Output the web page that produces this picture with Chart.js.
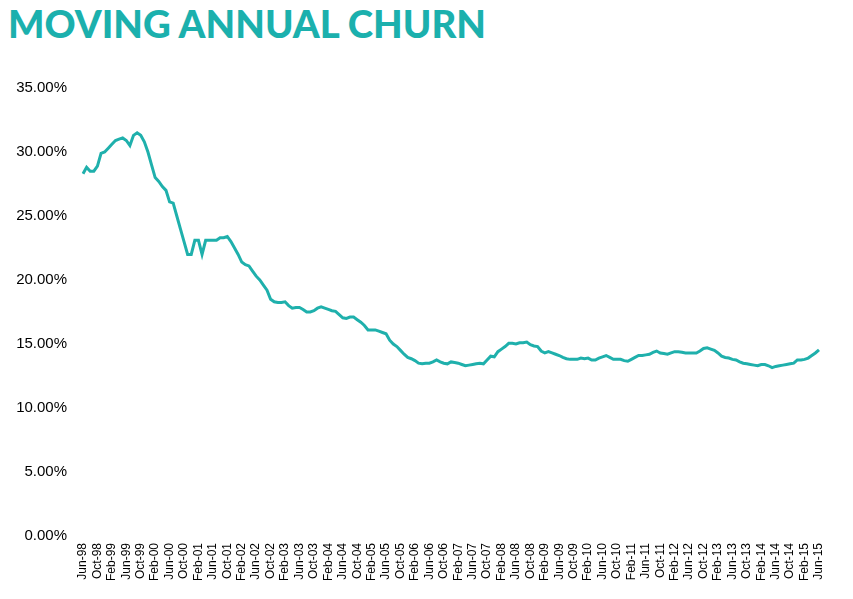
<!DOCTYPE html>
<html>
<head>
<meta charset="utf-8">
<script src="https://cdn.jsdelivr.net/npm/chart.js@4/dist/chart.umd.min.js"></script>
<style>
  html, body { margin: 0; padding: 0; background: #fff; }
  #wrap { position: relative; width: 853px; height: 599px; }
  #title {
    position: absolute; left: 8px; top: 3px; margin: 0;
    font-family: Lato, sans-serif; font-weight: 900; font-size: 38.4px; line-height: 40px;
    color: #1bb0ad; white-space: nowrap;
  }
  canvas { position: absolute; left: 0; top: 0; }
</style>
</head>
<body>
<div id="wrap">
  <h1 id="title">MOVING ANNUAL CHURN</h1>
  <canvas id="chart" width="853" height="599"></canvas>
</div>
<script>
// tick labels shown on the x axis, one every 4 months
var tickLabels = [
  'Jun-98','Oct-98','Feb-99','Jun-99','Oct-99','Feb-00','Jun-00','Oct-00','Feb-01','Jun-01',
  'Oct-01','Feb-02','Jun-02','Oct-02','Feb-03','Jun-03','Oct-03','Feb-04','Jun-04','Oct-04',
  'Feb-05','Jun-05','Oct-05','Feb-06','Jun-06','Oct-06','Feb-07','Jun-07','Oct-07','Feb-08',
  'Jun-08','Oct-08','Feb-09','Jun-09','Oct-09','Feb-10','Jun-10','Oct-10','Feb-11','Jun-11',
  'Oct-11','Feb-12','Jun-12','Oct-12','Feb-13','Jun-13','Oct-13','Feb-14','Jun-14','Oct-14',
  'Feb-15','Jun-15'
];

// monthly moving annual churn (%), Jun-98 .. Jun-15
var churn = [
  28.3, 28.8, 28.5, 28.5, 28.9, 29.9, 30.0, 30.3, 30.6, 30.9, 31.0, 31.1,
  30.9, 30.5, 31.3, 31.5, 31.3, 30.8, 30.0, 29.0, 28.0, 27.7, 27.3, 27.0,
  26.1, 26.0, 25.0, 24.0, 23.0, 22.0, 22.0, 23.1, 23.1, 22.0, 23.1, 23.1,
  23.1, 23.1, 23.3, 23.3, 23.4, 23.0, 22.5, 22.0, 21.4, 21.2, 21.1, 20.7,
  20.3, 20.0, 19.6, 19.2, 18.5, 18.3, 18.25, 18.25, 18.3, 18.0, 17.8, 17.85,
  17.85, 17.7, 17.5, 17.5, 17.6, 17.8, 17.9, 17.8, 17.7, 17.6, 17.55, 17.3,
  17.05, 17.0, 17.1, 17.1, 16.9, 16.7, 16.45, 16.1, 16.1, 16.1, 16.0, 15.9,
  15.8, 15.3, 15.0, 14.8, 14.5, 14.2, 13.95, 13.85, 13.7, 13.5, 13.45, 13.5,
  13.5, 13.6, 13.75, 13.6, 13.5, 13.45, 13.6, 13.55, 13.5, 13.4, 13.3, 13.35,
  13.4, 13.45, 13.5, 13.45, 13.75, 14.05, 14.0, 14.4, 14.6, 14.8, 15.05, 15.05,
  15.0, 15.1, 15.1, 15.15, 14.95, 14.85, 14.8, 14.45, 14.3, 14.4, 14.3, 14.2,
  14.1, 13.95, 13.85, 13.8, 13.8, 13.8, 13.9, 13.85, 13.9, 13.75, 13.75, 13.9,
  14.0, 14.1, 13.95, 13.8, 13.8, 13.8, 13.7, 13.65, 13.8, 13.95, 14.1, 14.1,
  14.15, 14.2, 14.35, 14.45, 14.3, 14.25, 14.2, 14.3, 14.4, 14.4, 14.35, 14.3,
  14.3, 14.3, 14.3, 14.45, 14.65, 14.7, 14.6, 14.5, 14.3, 14.05, 13.95, 13.9,
  13.8, 13.75, 13.6, 13.5, 13.45, 13.4, 13.35, 13.3, 13.4, 13.4, 13.3, 13.15,
  13.25, 13.3, 13.35, 13.4, 13.45, 13.5, 13.75, 13.75, 13.8, 13.9, 14.1, 14.3,
  14.55
];

var yTicks = [0, 5, 10, 15, 20, 25, 30, 35];

// one category per month, only every 4th one carries a label
var labels = churn.map(function(v, i) {
  return i % 4 === 0 ? tickLabels[i / 4] : '';
});

var ctx = document.getElementById('chart').getContext('2d');
var chart = new Chart(ctx, {
  type: 'line',
  data: {
    labels: labels,
    datasets: [{
      data: churn,
      borderColor: '#1fb0ac',
      borderWidth: 3,
      pointRadius: 0,
      tension: 0,
      fill: false
    }]
  },
  options: {
    responsive: false,
    animation: false,
    layout: { padding: { left: 8, right: 34, top: 88, bottom: 0 } },
    plugins: {
      legend: { display: false },
      tooltip: { enabled: false }
    },
    scales: {
      x: {
        grid: { display: false, drawTicks: false },
        border: { display: false },
        afterFit: function(scale) { scale.height = 63; },
        ticks: {
          autoSkip: false,
          minRotation: 90,
          maxRotation: 90,
          padding: 7,
          color: '#000',
          font: { family: 'Liberation Sans, Arial, sans-serif', size: 12 }
        }
      },
      y: {
        min: yTicks[0],
        max: yTicks[yTicks.length - 1],
        grid: { display: false, drawTicks: false },
        border: { display: false },
        afterFit: function(scale) { scale.width = 75; },
        ticks: {
          stepSize: 5,
          padding: 16,
          color: '#000',
          font: { family: 'Liberation Sans, Arial, sans-serif', size: 15 },
          callback: function(v) { return v.toFixed(2) + '%'; }
        }
      }
    }
  }
});
</script>
</body>
</html>
